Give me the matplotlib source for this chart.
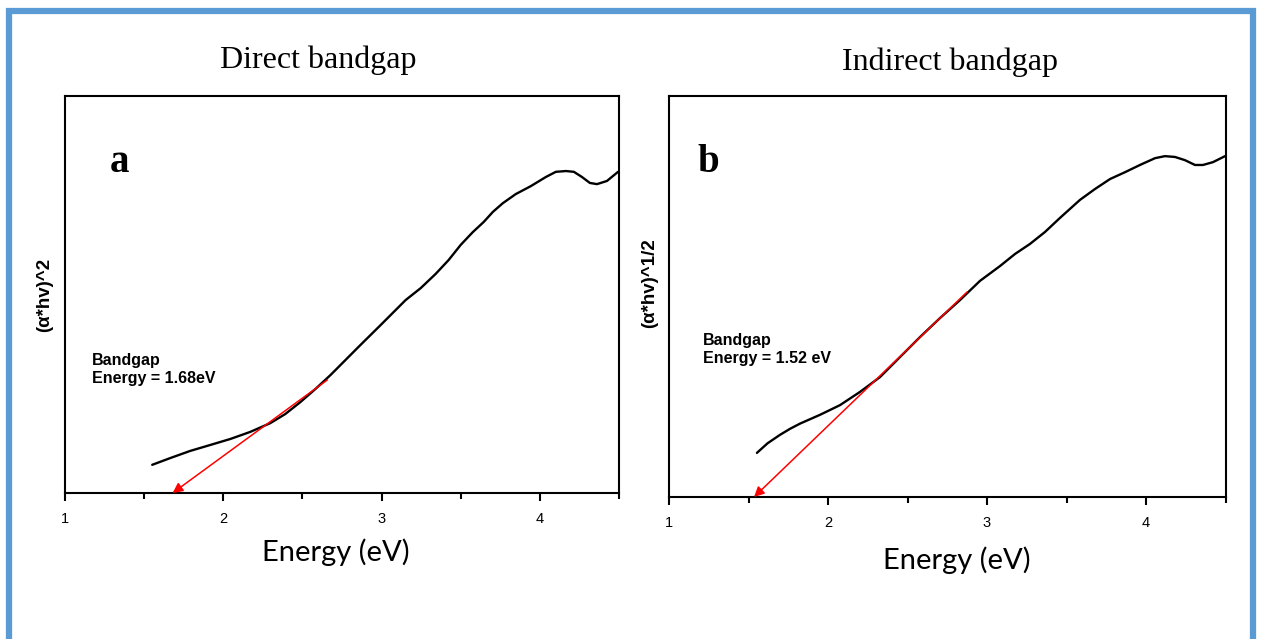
import matplotlib
matplotlib.use("Agg")
import matplotlib.pyplot as plt
from matplotlib.ticker import MultipleLocator

# panel a: direct bandgap, (a*hv)^2 vs energy (arb. units)
energy_a = [1.551, 1.665, 1.791, 1.918, 2.044, 2.171, 2.297, 2.392, 2.487, 2.582,
            2.677, 2.772, 2.867, 2.994, 3.152, 3.247, 3.342, 3.424, 3.500, 3.576,
            3.646, 3.703, 3.766, 3.848, 3.943, 4.038, 4.101, 4.165, 4.215, 4.266,
            4.316, 4.361, 4.424, 4.494]
signal_a = [0.071, 0.088, 0.106, 0.121, 0.136, 0.154, 0.176, 0.199, 0.229, 0.262,
            0.297, 0.335, 0.373, 0.423, 0.486, 0.516, 0.552, 0.587, 0.625, 0.657,
            0.683, 0.708, 0.730, 0.753, 0.773, 0.796, 0.809, 0.811, 0.809, 0.796,
            0.781, 0.778, 0.786, 0.809]
fit_a = ([2.658, 1.68], [0.285, 0.0])   # tangent start -> intercept

# panel b: indirect bandgap, (a*hv)^1/2 vs energy (arb. units)
energy_b = [1.553, 1.620, 1.698, 1.761, 1.824, 1.950, 2.075, 2.201, 2.327, 2.453,
            2.579, 2.704, 2.830, 2.956, 3.082, 3.176, 3.270, 3.365, 3.459, 3.585,
            3.679, 3.774, 3.868, 3.962, 4.057, 4.119, 4.182, 4.245, 4.308, 4.358,
            4.421, 4.497]
signal_b = [0.110, 0.134, 0.155, 0.170, 0.183, 0.205, 0.229, 0.262, 0.299, 0.349,
            0.399, 0.446, 0.491, 0.539, 0.576, 0.606, 0.631, 0.661, 0.696, 0.741,
            0.768, 0.793, 0.810, 0.828, 0.845, 0.850, 0.848, 0.840, 0.828, 0.828,
            0.835, 0.850]
fit_b = ([2.874, 1.535], [0.511, 0.0])

W, H = 1261, 639
fig = plt.figure(figsize=(W / 100, H / 100), dpi=100)
fig.patch.set_facecolor("white")

# blue frame (no bottom edge visible)
blue = "#5B9BD5"
fig.add_artist(plt.Line2D([9 / W, 9 / W, 1253 / W, 1253 / W],
                          [0, 1 - 11 / H, 1 - 11 / H, 0],
                          transform=fig.transFigure, color=blue, lw=4.5,
                          solid_joinstyle="miter"))


def px_axes(x0, x1, y0, y1):
    return fig.add_axes([x0 / W, 1 - y1 / H, (x1 - x0) / W, (y1 - y0) / H])


panels = [
    dict(box=(65, 619, 96, 493), e=energy_a, s=signal_a, fit=fit_a,
         title="Direct bandgap", tpos=(318, 60), letter="a", lpos=(110, 163),
         ylabel="(\u03b1*hv)^2", ypos=(45, 295),
         note="Bandgap\nEnergy = 1.68eV", npos=(92, 353), xlpos=(336, 552)),
    dict(box=(669, 1225.5, 96, 497), e=energy_b, s=signal_b, fit=fit_b,
         title="Indirect bandgap", tpos=(950, 62), letter="b", lpos=(697, 163),
         ylabel="(\u03b1*hv)^1/2", ypos=(650, 283),
         note="Bandgap\nEnergy = 1.52 eV", npos=(703, 333), xlpos=(957, 560)),
]

for p in panels:
    ax = px_axes(*p["box"])
    ax.plot(p["e"], p["s"], color="black", lw=1.7,
            solid_joinstyle="round", solid_capstyle="round")
    (x0, x1), (y0, y1) = p["fit"]
    ax.annotate("", xy=(x1, y1), xytext=(x0, y0),
                arrowprops=dict(arrowstyle="-|>", color="red", lw=1.1,
                                mutation_scale=15, shrinkA=0, shrinkB=0))
    ax.set_xlim(1, 4.5)
    ax.set_ylim(0, 1)
    ax.set_yticks([])
    ax.xaxis.set_major_locator(MultipleLocator(1))
    ax.xaxis.set_minor_locator(MultipleLocator(0.5))
    ax.tick_params(axis="x", which="major", length=6, width=1.5, pad=8,
                   labelsize=10.5, direction="out")
    ax.tick_params(axis="x", which="minor", length=4, width=1.5, direction="out")
    for sp in ax.spines.values():
        sp.set_linewidth(1.5)
    for lab in ax.get_xticklabels():
        lab.set_fontfamily("Liberation Sans")

    fig.text(p["tpos"][0] / W, 1 - p["tpos"][1] / H, p["title"],
             family="Liberation Serif", fontsize=23, ha="center", va="center")
    fig.text(p["lpos"][0] / W, 1 - p["lpos"][1] / H, p["letter"],
             family="Liberation Serif", fontweight="bold", fontsize=28,
             ha="left", va="center")
    fig.text(p["ypos"][0] / W, 1 - p["ypos"][1] / H, p["ylabel"],
             family="Liberation Sans", fontweight="bold", fontsize=13.5,
             rotation=90, ha="center", va="center")
    fig.text(p["npos"][0] / W, 1 - p["npos"][1] / H, p["note"],
             family="Liberation Sans", fontweight="bold", fontsize=11.5,
             ha="left", va="top", linespacing=1.25)
    fig.text(p["xlpos"][0] / W, 1 - p["xlpos"][1] / H, "Energy (eV)",
             family="Lato", fontsize=21, ha="center", va="center")

fig.savefig("out.png", dpi=100)
